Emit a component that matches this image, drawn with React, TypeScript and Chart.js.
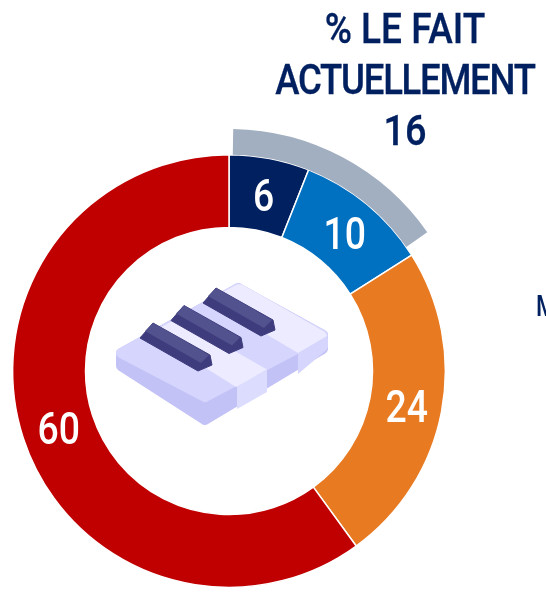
import React, { useEffect, useRef } from "react";
import { Chart, registerables } from "chart.js";

Chart.register(...registerables);

const categories = ["A", "B", "C", "D"];
const values = [6, 10, 24, 60];
const colours = ["#002060", "#0070C0", "#E87A22", "#C00000"];
const highlightValues = [16];
const titleLines = ["% LE FAIT", "ACTUELLEMENT", "16"];
const titleTops = [7, 58, 109];
const titleScales = [0.86, 0.85, 0.88];
const titleSpacing = [0, -1.5, 0];
const FONT = "Roboto, 'Liberation Sans', sans-serif";

const labelPlugin = {
  id: "sliceLabels",
  afterDatasetsDraw(chart: any) {
    const meta = chart.getDatasetMeta(1);
    const ctx = chart.ctx;
    ctx.save();
    ctx.fillStyle = "#ffffff";
    ctx.font = `500 44px ${FONT}`;
    ctx.textAlign = "center";
    ctx.textBaseline = "middle";
    meta.data.forEach((arc: any, i: number) => {
      const p = arc.getCenterPoint();
      ctx.save();
      ctx.translate(p.x + 1, p.y + 6);
      ctx.scale(0.85, 1);
      ctx.fillText(String(values[i]), 0, 0);
      ctx.restore();
    });
    ctx.restore();
  },
};

function Key({ dx, dy }: { dx: number; dy: number }) {
  return (
    <g transform={`translate(${dx} ${dy})`}>
      <path d="M140 338 L153 323 L210 355 L212 365 L198 371 Z" fill="#3F3C7D" stroke="#3F3C7D" strokeWidth="1" strokeLinejoin="round" />
      <path d="M145 331 L153 323 L209 355 L201 363 Z" fill="#52528F" />
    </g>
  );
}

function PianoIcon() {
  return (
    <svg width="546" height="592" viewBox="0 0 546 592" style={{ position: "absolute", left: 0, top: 0, pointerEvents: "none" }}>
      <g strokeLinejoin="round">
        <path d="M121 353 L121 366 L205 420 L323 349 L323 335 L238 288 Z" fill="#C3C2F6" stroke="#C3C2F6" strokeWidth="10" />
        <path d="M237 385 L267 368 L267 392 L237 409 Z" fill="#DCDCFF" />
        <path d="M298 350 L324 336 L328 338 L328 347 Q327 350 324 352 L298 374 Z" fill="#D5D5FD" />
        <path d="M121 353 L238 288 L323 335 L205 397 Z" fill="#D5D5FD" stroke="#D5D5FD" strokeWidth="10" />
        <path d="M150 333 L178 318 L267 369.5 L236 387 Z" fill="#ECEBFF" />
        <path d="M208 300 L234 286 Q238 283 243 285 L325 332 L327 336 L298 353 Z" fill="#ECEBFF" />
      </g>
      <Key dx={0} dy={0} />
      <Key dx={31} dy={-17.5} />
      <Key dx={63} dy={-35} />
    </svg>
  );
}

export default function App() {
  const ref = useRef<HTMLCanvasElement>(null);
  useEffect(() => {
    const chart = new Chart(ref.current!, {
      type: "doughnut",
      data: {
        labels: categories,
        datasets: [
          {
            data: highlightValues,
            backgroundColor: ["#A2AFC1"],
            borderWidth: 0,
            rotation: 1,
            circumference: 54,
            weight: 25.5,
          } as any,
          {
            data: values,
            backgroundColor: colours,
            borderColor: "#ffffff",
            borderWidth: 1.5,
            weight: 72.5,
          } as any,
        ],
      },
      options: {
        responsive: false,
        animation: false,
        cutout: "59.3%",
        layout: { padding: 0 },
        plugins: { legend: { display: false }, tooltip: { enabled: false }, title: { display: false } },
      },
      plugins: [labelPlugin],
    });
    return () => chart.destroy();
  }, []);

  return (
    <div style={{ position: "absolute", left: 0, top: 0, width: 546, height: 592, overflow: "hidden", background: "#fff" }}>
      <canvas ref={ref} width={484} height={484} style={{ position: "absolute", left: -13, top: 129, width: 484, height: 484 }} />
      <PianoIcon />
      {titleLines.map((t, i) => (
        <div
          key={t}
          style={{
            position: "absolute",
            left: 205,
            width: 400,
            top: titleTops[i],
            textAlign: "center",
            font: `500 43px/43px ${FONT}`,
            letterSpacing: titleSpacing[i],
            color: "#002060",
            transform: `scaleX(${titleScales[i]})`,
            WebkitTextStroke: "0.3px #002060",
            whiteSpace: "nowrap",
          }}
        >
          {t}
        </div>
      ))}
      <div style={{ position: "absolute", left: 536, top: 291, font: `500 29px/30px ${FONT}`, color: "#002060", transform: "scaleX(0.8)", transformOrigin: "left" }}>M</div>
    </div>
  );
}
